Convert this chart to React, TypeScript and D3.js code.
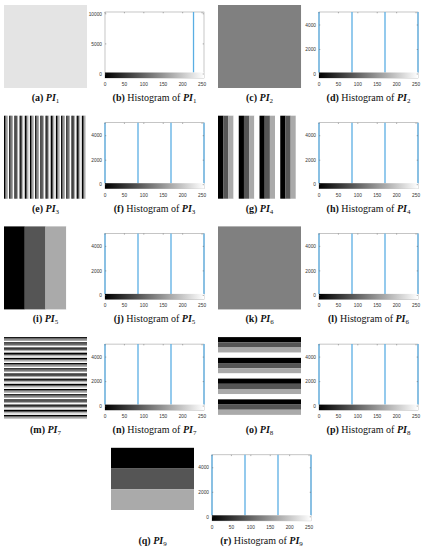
import React from 'react';
import * as d3 from 'd3';

// pattern images PI1..PI9
const imageLetters = ['a', 'c', 'e', 'g', 'i', 'k', 'm', 'o', 'q'];
const histLetters = ['b', 'd', 'f', 'h', 'j', 'l', 'n', 'p', 'r'];
const imageIndex = [1, 2, 3, 4, 5, 6, 7, 8, 9];
const stripeAxis = ['none', 'x', 'x', 'x', 'x', 'y', 'y', 'y', 'y'];
const stripeRepeats = [1, 64, 16, 4, 1, 64, 16, 4, 1];
const grayLevels = [0, 85, 170, 255];
const flatLevel = 228;

// histograms
const histValues = [
  [228],
  [0, 85, 170, 255],
  [0, 85, 170, 255],
  [0, 85, 170, 255],
  [0, 85, 170, 255],
  [0, 85, 170, 255],
  [0, 85, 170, 255],
  [0, 85, 170, 255],
  [0, 85, 170, 255],
];
const histCounts = [
  [10300],
  [5060, 5060, 5060, 5060],
  [5060, 5060, 5060, 5060],
  [5060, 5060, 5060, 5060],
  [5060, 5060, 5060, 5060],
  [5060, 5060, 5060, 5060],
  [5060, 5060, 5060, 5060],
  [5060, 5060, 5060, 5060],
  [5060, 5060, 5060, 5060],
];
const yMax = [10300, 5060, 5060, 5060, 5060, 5060, 5060, 5060, 5060];
const yTicks = [
  [0, 5000, 10000],
  [0, 2000, 4000],
  [0, 2000, 4000],
  [0, 2000, 4000],
  [0, 2000, 4000],
  [0, 2000, 4000],
  [0, 2000, 4000],
  [0, 2000, 4000],
  [0, 2000, 4000],
];
const xTicks = [0, 50, 100, 150, 200, 250];

const W = 425;
const H = 550;
const IMG = 83;
const BOX_W = 99;
const BOX_H = 66;
const BAR_H = 5.5;
const stemColor = '#5aaee3';
const serif = '"Liberation Serif", "DejaVu Serif", serif';
const sans = '"Liberation Sans", Arial, sans-serif';

function panelPos(i: number) {
  const row = Math.floor(i / 2);
  const top = 5 + row * 110.7;
  if (i === 8) return { imgX: 111, histX: 212, top };
  return i % 2 === 0 ? { imgX: 4, histX: 105, top } : { imgX: 218, histX: 319, top };
}

const grayFill = (g: number) => d3.rgb(g, g, g).toString();

function PatternImage({ i, x, y }: { i: number; x: number; y: number }) {
  const axis = stripeAxis[i];
  if (axis === 'none') {
    return <rect x={x} y={y} width={IMG} height={IMG} fill={grayFill(flatLevel)} />;
  }
  const n = stripeRepeats[i] * grayLevels.length;
  const cells = d3.range(n);
  const band = d3.scaleBand<number>().domain(cells).range(axis === 'x' ? [x, x + IMG] : [y, y + IMG]);
  // cells thinner than a screen pixel are averaged, then equal neighbours merged into one run
  const chunk = band.bandwidth() < 1 ? Math.ceil(1 / band.bandwidth()) : 1;
  const runs: { start: number; count: number; gray: number }[] = [];
  d3.range(0, n, chunk).forEach((c) => {
    const members = d3.range(c, Math.min(c + chunk, n));
    const g = Math.round(d3.mean(members, (m) => grayLevels[m % grayLevels.length]) as number);
    const last = runs[runs.length - 1];
    if (last && last.gray === g) last.count += members.length;
    else runs.push({ start: c, count: members.length, gray: g });
  });
  return (
    <g>
      {runs.map((r) => {
        const size = band.bandwidth() * r.count + 0.03;
        return axis === 'x' ? (
          <rect key={r.start} x={band(r.start)} y={y} width={size} height={IMG} fill={grayFill(r.gray)} />
        ) : (
          <rect key={r.start} x={x} y={band(r.start)} width={IMG} height={size} fill={grayFill(r.gray)} />
        );
      })}
    </g>
  );
}

function Histogram({ i, x, y }: { i: number; x: number; y: number }) {
  const bottom = y + BOX_H;
  const xs = d3.scaleLinear().domain([0, 255]).range([x, x + BOX_W]);
  const ys = d3.scaleLinear().domain([0, yMax[i]]).range([bottom - 4, y]).clamp(true);
  const gid = `cbar${i}`;
  return (
    <g>
      <defs>
        <linearGradient id={gid} x1="0" x2="1" y1="0" y2="0">
          <stop offset="0" stopColor="#000" />
          <stop offset="1" stopColor="#fff" />
        </linearGradient>
      </defs>
      <rect x={x} y={y} width={BOX_W} height={BOX_H} fill="none" stroke="#a0a0a0" strokeWidth={0.6} />
      {histValues[i].map((v, k) => (
        <line
          key={k}
          x1={xs(v)}
          x2={xs(v)}
          y1={bottom - BAR_H}
          y2={ys(histCounts[i][k])}
          stroke={stemColor}
          strokeWidth={1.3}
        />
      ))}
      <rect x={x} y={bottom - BAR_H} width={BOX_W} height={BAR_H} fill={`url(#${gid})`} />
      {xTicks.map((t) => (
        <g key={t}>
          <line x1={xs(t)} x2={xs(t)} y1={y} y2={y + 1.3} stroke="#666" strokeWidth={0.5} />
          <text x={xs(t)} y={bottom + 8} fontSize={4.8} textAnchor="middle" fontFamily={sans} fill="#333">
            {t}
          </text>
        </g>
      ))}
      {yTicks[i].map((t) => (
        <g key={t}>
          <line x1={x} x2={x + 1.3} y1={ys(t)} y2={ys(t)} stroke="#666" strokeWidth={0.5} />
          <line x1={x + BOX_W - 1.3} x2={x + BOX_W} y1={ys(t)} y2={ys(t)} stroke="#666" strokeWidth={0.5} />
          <text x={x - 3} y={ys(t) + 1.7} fontSize={4.8} textAnchor="end" fontFamily={sans} fill="#333">
            {t}
          </text>
        </g>
      ))}
    </g>
  );
}

function Caption({ cx, y, letter, idx, hist }: { cx: number; y: number; letter: string; idx: number; hist: boolean }) {
  return (
    <text x={cx} y={y} fontSize={10} textAnchor="middle" fontFamily={serif} fill="#111">
      <tspan fontWeight="bold">({letter})</tspan>
      <tspan>{hist ? ' Histogram of ' : ' '}</tspan>
      <tspan fontWeight="bold" fontStyle="italic">PI</tspan>
      <tspan fontSize={7} dy={2}>{idx}</tspan>
    </text>
  );
}

export default function App() {
  return (
    <svg width={W} height={H} style={{ position: 'absolute', left: 0, top: 0, background: '#fff' }}>
      {imageIndex.map((n, i) => {
        const p = panelPos(i);
        return (
          <g key={n}>
            <PatternImage i={i} x={p.imgX} y={p.top} />
            <Histogram i={i} x={p.histX} y={p.top + 7} />
            <Caption cx={p.imgX + IMG / 2} y={p.top + 96} letter={imageLetters[i]} idx={n} hist={false} />
            <Caption cx={p.histX + BOX_W / 2} y={p.top + 96} letter={histLetters[i]} idx={n} hist={true} />
          </g>
        );
      })}
    </svg>
  );
}
